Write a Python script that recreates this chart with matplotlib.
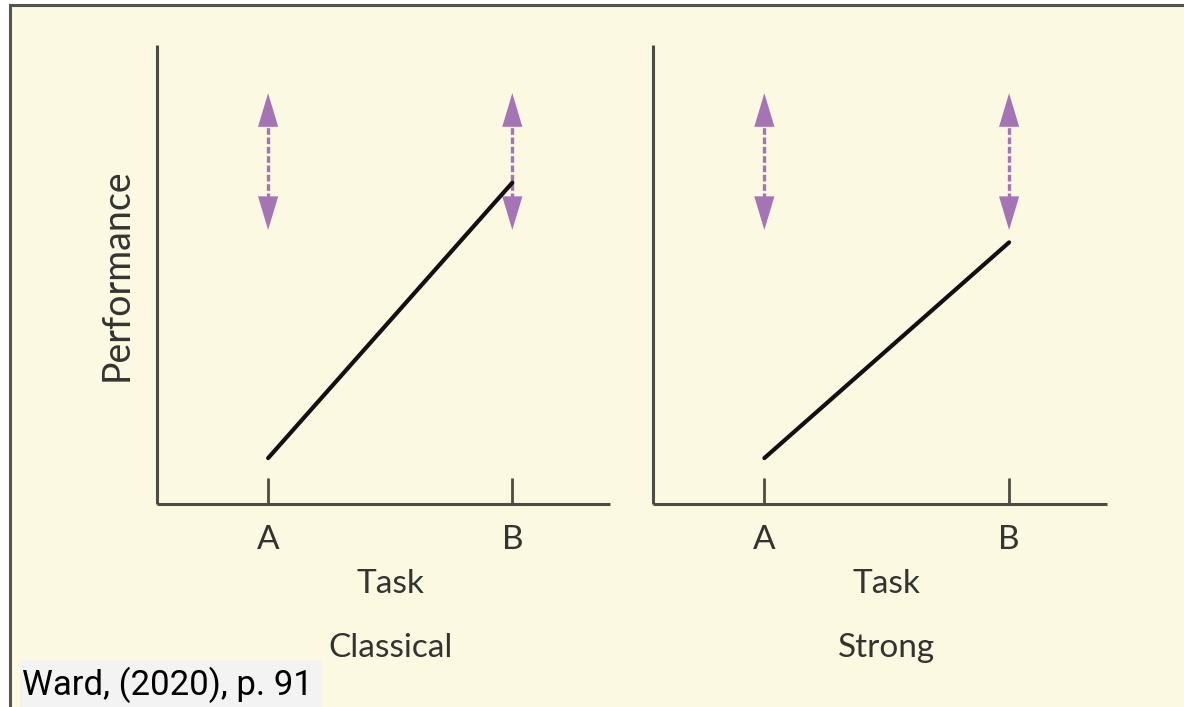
import matplotlib
matplotlib.use('Agg')
import matplotlib.pyplot as plt
from matplotlib.patches import Rectangle
from matplotlib.lines import Line2D

# data
tasks = ['A', 'B']
task_pos = [1, 2]
panel_titles = ['Classical', 'Strong']
perf_classical = [1.0, 7.0]
perf_strong = [1.0, 5.7]
arrow_lo = 5.97
arrow_hi = 8.95
caption = 'Ward, (2020), p. 91'

CREAM = '#fcf9e3'
AXCOL = '#4d4c42'
TXT = '#333330'
PURPLE = '#a574b4'
FS = 24

plt.rcParams['font.family'] = ['Lato', 'DejaVu Sans']

W, H = 1184, 707
fig = plt.figure(figsize=(W / 100, H / 100), dpi=100)
fig.patch.set_facecolor('white')

# cream page with border on left/top
fig.patches.append(Rectangle((10 / W, 0), 1 - 10 / W, (H - 5) / H,
                             transform=fig.transFigure, facecolor=CREAM,
                             edgecolor='none', zorder=-2))
fig.lines.append(Line2D([10 / W, 10 / W], [0, (H - 5) / H], transform=fig.transFigure,
                        color='#555550', lw=2.2, zorder=-1))
fig.lines.append(Line2D([10 / W, 1], [(H - 5) / H, (H - 5) / H], transform=fig.transFigure,
                        color='#555550', lw=2.2, zorder=-1))

panels = [
    (157, 610, perf_classical, panel_titles[0]),
    (653, 1107, perf_strong, panel_titles[1]),
]
ax_bottom = (H - 504) / H
ax_top = (H - 45) / H

for i, (px0, px1, perf, title) in enumerate(panels):
    ax = fig.add_axes([px0 / W, ax_bottom, (px1 - px0) / W, ax_top - ax_bottom])
    ax.set_zorder(2)
    ax.set_facecolor('none')
    ax.set_xlim(0.545, 2.40)
    ax.set_ylim(0, 10)
    for s in ['top', 'right']:
        ax.spines[s].set_visible(False)
    for s in ['left', 'bottom']:
        ax.spines[s].set_color(AXCOL)
        ax.spines[s].set_linewidth(2.2)
        ax.spines[s].set_capstyle('butt')
    ax.set_yticks([])
    ax.set_xticks(task_pos)
    ax.set_xticklabels(tasks)
    ax.tick_params(axis='x', direction='in', length=19, width=2.0, color=AXCOL,
                   labelsize=FS, labelcolor=TXT, pad=15)

    # performance line
    ax.plot(task_pos, perf, color='#111111', lw=3.0, solid_capstyle='round', zorder=3)

    # variability arrows
    mid = (arrow_lo + arrow_hi) / 2
    for xp in task_pos:
        ax.plot([xp, xp], [arrow_lo + 0.45, arrow_hi - 0.45], color=PURPLE, lw=2.4,
                ls=(0, (2.0, 0.8)), zorder=2)
        for tip in (arrow_lo, arrow_hi):
            start = tip + (0.7 if tip < mid else -0.7)
            ax.annotate('', xy=(xp, tip), xytext=(xp, start),
                        arrowprops=dict(arrowstyle='-|>,head_length=1.1,head_width=0.33',
                                        color=PURPLE, lw=0, mutation_scale=22,
                                        shrinkA=0, shrinkB=0), zorder=2)

    xt = ax.get_xaxis_transform()
    ax.text(1.5, -0.194, 'Task', transform=xt, ha='center', va='baseline',
            fontsize=FS, color=TXT)
    ax.text(1.5, -0.333, title, transform=xt, ha='center', va='baseline',
            fontsize=FS, color=TXT)
    if i == 0:
        ax.set_ylabel('Performance', fontsize=27, color=TXT, labelpad=16)

# caption box
fig.patches.append(Rectangle((20 / W, 0), 302 / W, 47 / H, transform=fig.transFigure,
                             facecolor='#f3f3f3', edgecolor='none', zorder=5))
fig.text(22 / W, 12 / H, caption, fontsize=25, color='black', family='Roboto',
         ha='left', va='baseline', zorder=6)

fig.savefig('out.png', dpi=100, facecolor=fig.get_facecolor())
